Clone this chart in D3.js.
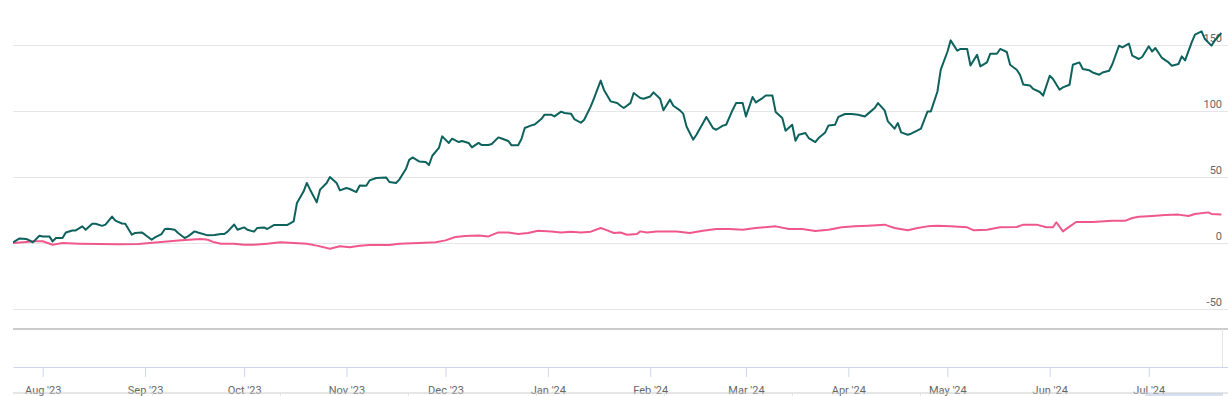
<!DOCTYPE html>
<html>
<head>
<meta charset="utf-8">
<script src="https://cdn.jsdelivr.net/npm/d3@7"></script>
<style>
  body { margin: 0; background: #fff; }
  svg text { font-family: Roboto, "Open Sans", sans-serif; }
</style>
</head>
<body>
<svg width="1228" height="396"></svg>
<script>
// data: days counted from 23 Jul 2023, values in %
var startDate = new Date(2023, 6, 23);
var endDate = new Date(2024, 6, 25);

var greenDays = [0,2,4,5,6,8,9,11,12,13,15,16,18,19,21,22,24,25,27,28,30,31,33,34,36,37,39,40,42,43,45,46,47,49,50,52,53,55,56,
  59,61,63,64,65,67,68,70,71,73,74,76,77,79,81,83,85,86,88,89,90,92,93,95,96,98,99,101,102,104,105,107,108,110,113,114,116,117,
  119,120,121,123,125,126,127,129,130,132,133,135,136,138,139,141,142,144,145,147,148,150,151,153,154,155,157,158,160,161,163,164,
  166,167,169,170,172,173,175,176,178,179,181,183,184,185,187,188,190,191,193,194,196,197,199,200,202,203,204,206,207,209,210,212,
  213,215,216,218,219,221,222,224,225,227,228,230,231,233,234,236,237,238,240,241,243,244,246,247,249,250,252,254,256,258,259,261,
  262,264,265,267,268,269,271,272,274,275,277,278,280,281,283,284,286,287,289,290,292,293,295,296,298,299,301,302,304,305,306,308,
  309,311,312,314,315,317,318,320,321,323,324,326,327,329,330,332,333,335,336,338,339,341,342,344,345,346,348,350,351,353,354,355,
  357,358,360,361,363,364,366];
var greenValues = [0.5,3.5,3,2,0.5,5.5,5,5,1.2,3.8,3.8,8,9.5,9.5,12.6,10,14.6,14.6,13,13.9,20,17,14.8,14.6,6.3,7.6,8,6.3,2.5,4.3,6.8,10.6,10.8,10,7.6,3.8,5,8.8,8,
  5.8,6,6.8,6.8,8.6,14,10,11.8,10,8.6,11.4,11.8,10.6,13.6,13.6,13.6,16.4,30.3,39,45.5,40.4,30.8,40.4,45.5,50,45.5,39.9,41.7,40.9,38.6,43.6,43.4,47.4,49.2,49.7,46.2,45.5,48,
  56,63,64.8,61.8,61.4,59.1,66.1,72,80.8,75.8,79,76.5,77.3,75.8,72.4,75.8,74.2,74.2,75,80,79.2,77.3,74,74,78.8,87.1,89.1,89.8,93.9,97.2,97.2,95.9,
  99.5,98.5,98,93.9,91.1,93.4,103.5,109.8,123,116,107.3,106,104,102.3,106,113.6,109.8,109.3,111,114.1,109.3,100.5,108.6,104,100.5,98,88.3,78.3,82,90.9,95.5,87.1,
  85.8,88.9,89.6,101,106,106,95.9,110.6,106.5,109.8,111.8,111.8,99.2,94.7,85.1,89.6,77.5,82,83.3,79.5,76.5,79.5,83.8,89.1,89.6,95.5,97.7,97.7,97.2,95.9,98,102.3,
  106,100.5,92.1,86.6,90.9,83.8,82,82.8,85.3,86.6,99.7,99.7,114.8,131.3,144.7,153.5,145.7,147,147,134.5,142.6,133.8,136.8,143.4,143.4,147,144.7,135,131.3,127.5,120,119.4,
  116.7,114.4,111.6,126.7,124.2,116.1,117.9,119.9,135,136.8,131.8,130.8,129.2,127.5,129.2,130.5,135.6,149.5,148.2,151,141.9,139.4,140.9,149,145.1,147.7,140.2,136.8,134.3,135.6,141.4,138.3,
  152,157.8,160.3,154.5,149.5,153.5,159.1];

var pinkDays = [0,4,6,9,12,15,20,26,32,38,44,51,57,59,61,63,67,70,73,77,81,85,89,92,96,99,102,105,108,114,117,123,128,131,134,137,141,144,147,150,
  153,156,159,163,166,169,172,175,178,180,182,184,186,189,190,192,195,198,201,205,209,213,217,221,225,231,235,239,243,247,251,255,259,264,267,
  271,274,277,280,284,289,291,295,299,304,306,310,313,315,316,318,320,322,327,333,337,339,341,345,349,353,356,358,362,363,366];
var pinkValues = [0,0.8,1.3,1.3,-1.3,0,-0.5,-0.8,-1,-0.8,0.5,2,3,2.5,0.5,-0.5,-0.5,-1.3,-1.3,-0.5,0.5,0,-0.5,-2,-4.3,-2.5,-3.3,-2,-1.5,-1.5,-0.5,0,0.5,2,4.5,5.3,5.6,5,8,8,
  6.8,7.6,9.3,8.8,8,8.6,8,8.6,11.4,9.6,7.6,8,6.3,6.8,8.8,8,8.8,8.8,8.8,7.6,9.3,10.6,10.6,10.1,11.4,12.6,10.6,10.6,9.1,10.1,11.9,12.6,13.1,13.9,11.4,
  9.6,11.4,12.6,13.1,12.6,11.9,9.6,10.1,11.9,12.1,13.9,13.9,11.9,11.9,15.7,8.8,12.4,15.9,15.9,16.9,16.9,18.9,19.9,20.5,21.2,21.5,20.5,22,23.2,22,21.5];

var yTicks = [-50, 0, 50, 100, 150];
var navYears = [2010, 2012, 2014, 2016, 2018, 2020, 2022, 2024];

var svg = d3.select('svg');

var x = d3.scaleTime()
  .domain([startDate, endDate])
  .range([13, 1228]);
var y = d3.scaleLinear()
  .domain([-50, 150])
  .range([309, 45]);

// grid + y labels
var grid = svg.append('g');
grid.selectAll('line').data(yTicks).enter().append('line')
  .attr('x1', 13).attr('x2', 1228)
  .attr('y1', function(d){ return y(d) + 0.5; })
  .attr('y2', function(d){ return y(d) + 0.5; })
  .attr('stroke', '#e6e6e6');
grid.selectAll('text').data(yTicks).enter().append('text')
  .attr('x', 1222)
  .attr('y', function(d){ return y(d) - 3; })
  .attr('text-anchor', 'end')
  .attr('font-size', '11px')
  .attr('fill', '#666')
  .text(function(d){ return d; });

// lines
svg.append('clipPath').attr('id', 'plot')
  .append('rect').attr('x', 13).attr('y', 0).attr('width', 1215).attr('height', 328);

var pinkData = pinkDays.map(function(d, i){ return [d3.timeDay.offset(startDate, d), pinkValues[i]]; });
var greenData = greenDays.map(function(d, i){ return [d3.timeDay.offset(startDate, d), greenValues[i]]; });

var line = d3.line()
  .x(function(d){ return x(d[0]); })
  .y(function(d){ return y(d[1]); });

svg.append('path')
  .datum(pinkData)
  .attr('clip-path', 'url(#plot)')
  .attr('d', line)
  .attr('fill', 'none')
  .attr('stroke', '#f0588b')
  .attr('stroke-width', 2)
  .attr('stroke-linejoin', 'round');

svg.append('path')
  .datum(greenData)
  .attr('clip-path', 'url(#plot)')
  .attr('d', line)
  .attr('fill', 'none')
  .attr('stroke', '#0e625d')
  .attr('stroke-width', 2)
  .attr('stroke-linejoin', 'round');

// lower empty pane
svg.append('line')
  .attr('x1', 13).attr('x2', 1228).attr('y1', 329).attr('y2', 329)
  .attr('stroke', '#cccccc').attr('stroke-width', 2);
svg.append('line')
  .attr('x1', 1222.5).attr('x2', 1222.5).attr('y1', 329).attr('y2', 367)
  .attr('stroke', '#e6e6e6');

// x axis
var xAxis = d3.axisBottom(x)
  .ticks(d3.timeMonth.every(1))
  .tickFormat(d3.timeFormat("%b '%y"))
  .tickSize(-10)
  .tickSizeOuter(0);
var xg = svg.append('g')
  .attr('transform', 'translate(0,367)')
  .call(xAxis);
xg.select('.domain').attr('stroke', '#ccd6eb');
xg.selectAll('.tick line').attr('stroke', '#ccd6eb').attr('y1', 0).attr('y2', 10);
xg.selectAll('.tick text')
  .attr('y', 19)
  .attr('fill', '#666')
  .attr('font-size', '11px')
  .style('font-family', 'Roboto, sans-serif');

// navigator (cut off at the bottom)
var nav = d3.scaleLinear().domain([2008, 2027]).range([24, 1240]);
svg.append('rect')
  .attr('x', 1145).attr('y', 393).attr('width', 78).attr('height', 3)
  .attr('fill', 'rgba(102,133,194,0.25)');
svg.append('line')
  .attr('x1', 13).attr('x2', 1228).attr('y1', 393).attr('y2', 393)
  .attr('stroke', '#cccccc');
svg.append('g').selectAll('line').data(navYears).enter().append('line')
  .attr('x1', function(d){ return Math.round(nav(d)) + 0.5; })
  .attr('x2', function(d){ return Math.round(nav(d)) + 0.5; })
  .attr('y1', 393).attr('y2', 396)
  .attr('stroke', '#e6e6e6');
</script>
</body>
</html>
